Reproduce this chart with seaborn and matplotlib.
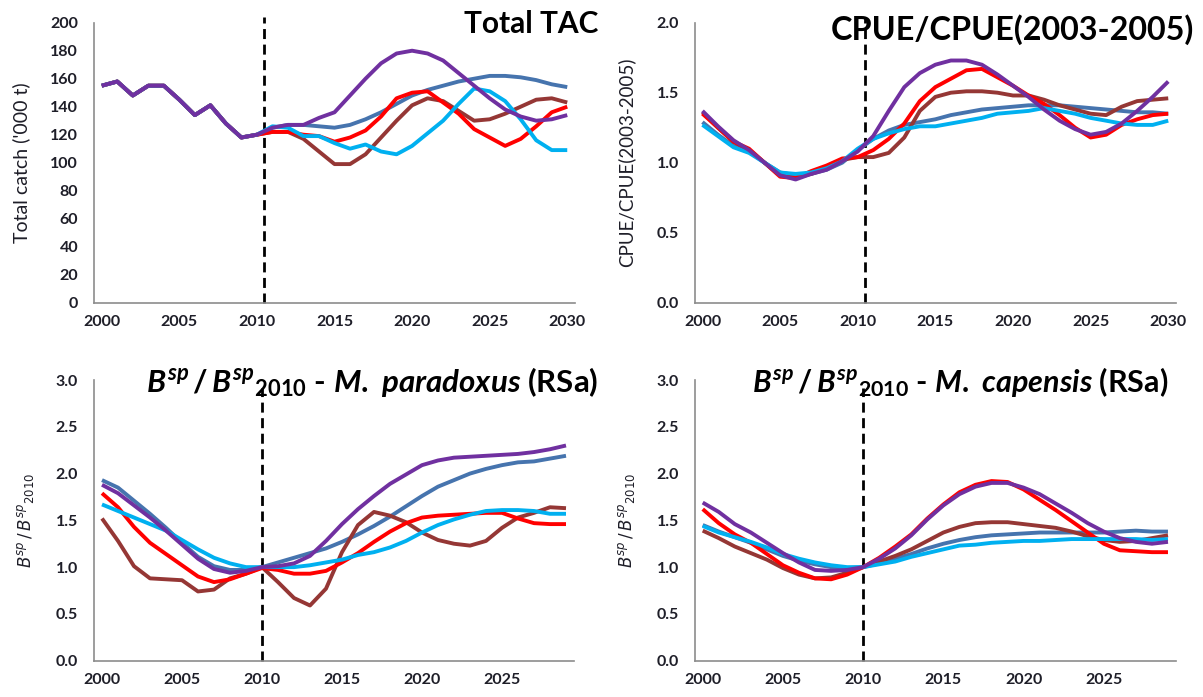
import numpy as np
import pandas as pd
import matplotlib
matplotlib.use("Agg")
import matplotlib.pyplot as plt
import seaborn as sns
from matplotlib.ticker import FixedLocator, FormatStrFormatter

# ---------------- data ----------------
years_top = list(range(2000, 2031))
years_bot = list(range(2000, 2030))

# Total TAC ('000 t): common history 2000-2010, projections 2011-2030
tac_hist = [155, 158, 148, 155, 155, 145, 134, 141, 128, 118, 120]
tac_purple = [125, 127, 127, 132, 136, 148, 160, 171, 178, 180, 178, 173, 164, 155, 146, 138, 133, 130, 131, 134]
tac_red = [122, 122, 120, 119, 115, 118, 123, 133, 146, 150, 151, 143, 135, 124, 118, 112, 117, 126, 136, 140]
tac_brown = [122, 122, 117, 108, 99, 99, 106, 118, 130, 141, 146, 144, 137, 130, 131, 135, 140, 145, 146, 143]
tac_cyan = [126, 125, 119, 119, 114, 110, 113, 108, 106, 112, 121, 130, 142, 153, 151, 144, 131, 116, 109, 109]
tac_steel = [125, 127, 127, 126, 125, 127, 131, 136, 142, 148, 152, 155, 158, 160, 162, 162, 161, 159, 156, 154]

# CPUE / CPUE(2003-2005), 2000-2030
cpue_purple = [1.37, 1.26, 1.16, 1.09, 1.00, 0.91, 0.88, 0.92, 0.95, 1.01, 1.08, 1.19, 1.37, 1.54, 1.64, 1.70,
               1.73, 1.73, 1.70, 1.63, 1.55, 1.47, 1.38, 1.30, 1.24, 1.20, 1.22, 1.28, 1.37, 1.47, 1.58]
cpue_red = [1.35, 1.25, 1.15, 1.10, 1.00, 0.90, 0.89, 0.94, 0.98, 1.03, 1.04, 1.09, 1.17, 1.28, 1.44, 1.54,
            1.60, 1.66, 1.67, 1.61, 1.55, 1.48, 1.42, 1.34, 1.25, 1.18, 1.20, 1.27, 1.31, 1.34, 1.35]
cpue_brown = [1.36, 1.25, 1.15, 1.09, 1.00, 0.91, 0.89, 0.92, 0.96, 1.02, 1.04, 1.04, 1.07, 1.18, 1.37, 1.47,
              1.50, 1.51, 1.51, 1.50, 1.48, 1.48, 1.45, 1.41, 1.38, 1.35, 1.34, 1.40, 1.44, 1.45, 1.46]
cpue_steel = [1.29, 1.20, 1.12, 1.08, 1.00, 0.93, 0.91, 0.92, 0.95, 1.00, 1.09, 1.17, 1.23, 1.27, 1.29, 1.31,
              1.34, 1.36, 1.38, 1.39, 1.40, 1.41, 1.41, 1.41, 1.40, 1.39, 1.38, 1.37, 1.36, 1.36, 1.35]
cpue_cyan = [1.27, 1.19, 1.11, 1.07, 1.00, 0.93, 0.92, 0.93, 0.96, 1.01, 1.10, 1.17, 1.21, 1.24, 1.26, 1.26,
             1.28, 1.30, 1.32, 1.35, 1.36, 1.37, 1.39, 1.37, 1.35, 1.32, 1.30, 1.28, 1.27, 1.27, 1.30]

# Bsp/Bsp2010 - M. paradoxus, 2000-2029
par_purple = [1.88, 1.79, 1.66, 1.53, 1.39, 1.24, 1.09, 0.98, 0.94, 0.96, 1.00, 1.01, 1.04, 1.12, 1.28,
              1.46, 1.62, 1.76, 1.89, 1.99, 2.09, 2.14, 2.17, 2.18, 2.19, 2.20, 2.21, 2.23, 2.26, 2.30]
par_steel = [1.93, 1.85, 1.71, 1.57, 1.42, 1.26, 1.11, 1.01, 0.97, 0.97, 1.00, 1.05, 1.10, 1.15, 1.20,
             1.27, 1.35, 1.44, 1.54, 1.65, 1.76, 1.86, 1.93, 2.00, 2.05, 2.09, 2.12, 2.13, 2.16, 2.19]
par_red = [1.79, 1.64, 1.43, 1.26, 1.14, 1.02, 0.90, 0.84, 0.87, 0.93, 0.99, 0.97, 0.93, 0.93, 0.96,
           1.05, 1.15, 1.27, 1.38, 1.47, 1.53, 1.55, 1.56, 1.57, 1.58, 1.58, 1.52, 1.47, 1.46, 1.46]
par_brown = [1.52, 1.28, 1.01, 0.88, 0.87, 0.86, 0.74, 0.76, 0.88, 0.93, 1.00, 0.84, 0.67, 0.59, 0.77,
             1.16, 1.45, 1.59, 1.55, 1.48, 1.37, 1.29, 1.25, 1.23, 1.28, 1.42, 1.53, 1.58, 1.64, 1.63]
par_cyan = [1.67, 1.60, 1.53, 1.46, 1.39, 1.29, 1.19, 1.10, 1.04, 1.00, 1.00, 1.00, 1.00, 1.02, 1.05,
            1.08, 1.13, 1.16, 1.21, 1.28, 1.37, 1.45, 1.51, 1.56, 1.60, 1.61, 1.61, 1.60, 1.57, 1.57]

# Bsp/Bsp2010 - M. capensis, 2000-2029
cap_purple = [1.69, 1.59, 1.46, 1.37, 1.26, 1.15, 1.05, 0.97, 0.96, 0.97, 1.00, 1.09, 1.20, 1.34, 1.51,
              1.66, 1.78, 1.86, 1.90, 1.90, 1.85, 1.78, 1.68, 1.58, 1.47, 1.38, 1.31, 1.27, 1.25, 1.27]
cap_red = [1.62, 1.47, 1.35, 1.26, 1.14, 1.02, 0.94, 0.88, 0.87, 0.92, 1.00, 1.10, 1.22, 1.35, 1.52,
           1.67, 1.80, 1.88, 1.92, 1.91, 1.83, 1.72, 1.61, 1.49, 1.37, 1.25, 1.18, 1.17, 1.16, 1.16]
cap_brown = [1.39, 1.31, 1.22, 1.15, 1.08, 0.99, 0.92, 0.88, 0.89, 0.94, 1.00, 1.06, 1.12, 1.19, 1.28,
             1.37, 1.43, 1.47, 1.48, 1.48, 1.46, 1.44, 1.42, 1.38, 1.33, 1.29, 1.27, 1.28, 1.31, 1.34]
cap_steel = [1.45, 1.38, 1.32, 1.26, 1.19, 1.12, 1.07, 1.03, 1.00, 0.99, 1.00, 1.04, 1.09, 1.14, 1.20,
             1.25, 1.29, 1.32, 1.34, 1.35, 1.36, 1.37, 1.37, 1.37, 1.37, 1.37, 1.38, 1.39, 1.38, 1.38]
cap_cyan = [1.44, 1.37, 1.32, 1.27, 1.21, 1.14, 1.09, 1.05, 1.02, 1.00, 1.00, 1.03, 1.06, 1.11, 1.15,
            1.19, 1.23, 1.24, 1.26, 1.27, 1.28, 1.28, 1.29, 1.30, 1.30, 1.30, 1.30, 1.30, 1.29, 1.30]

vline_top = 2010.45
vline_bot = 2010

# ---------------- style ----------------
sns.set_theme(style="white")
plt.rcParams["font.family"] = ["Lato", "DejaVu Sans"]
plt.rcParams["mathtext.fontset"] = "custom"
plt.rcParams["mathtext.it"] = "Lato:italic:bold"
plt.rcParams["mathtext.rm"] = "Lato:bold"
plt.rcParams["mathtext.bf"] = "Lato:bold"
plt.rcParams["mathtext.sf"] = "Lato:bold"

PURPLE, RED, BROWN, STEEL, CYAN = "#7030A0", "#FF0000", "#953735", "#4674AE", "#00B0F0"
AXIS_GREY = "#8C8C8C"
TXT = "#1E1E28"
LW = 2.8

fig = plt.figure(figsize=(12.03, 6.97), dpi=100)
W, H = 1203.0, 697.0


def rect(l, r, t, b):
    return [l / W, 1 - b / H, (r - l) / W, (b - t) / H]


ax_tac = fig.add_axes(rect(94, 575, 22.7, 302.7))
ax_cpue = fig.add_axes(rect(694.7, 1176, 22.7, 302.7))
ax_par = fig.add_axes(rect(94, 574, 380, 660.7))
ax_cap = fig.add_axes(rect(694.7, 1176, 380, 660.7))


def draw(ax, years, series):
    for vals, col in series:
        sns.lineplot(x=years, y=vals, color=col, lw=LW, ax=ax, legend=False,
                     solid_capstyle="butt", solid_joinstyle="round")


def style(ax, years, ymax, ystep, fmt, vx, vtop):
    last = years[-1]
    ax.set_xlim(years[0] - 0.5, last + 0.5)
    ax.set_ylim(0, ymax)
    ax.set_yticks(np.arange(0, ymax + ystep / 2, ystep))
    ax.yaxis.set_major_formatter(FormatStrFormatter(fmt))
    ax.set_xticks([y for y in years if (y - 2000) % 5 == 0])
    ax.xaxis.set_minor_locator(FixedLocator(np.arange(years[0] - 0.5, last + 0.6, 1.0)))
    ax.tick_params(axis="x", which="major", length=0, pad=9, labelsize=11.5, labelcolor=TXT)
    ax.tick_params(axis="x", which="minor", length=4.5, width=1.0, color=AXIS_GREY, direction="out")
    ax.tick_params(axis="y", which="major", length=4.5, width=1.0, color=AXIS_GREY, direction="out",
                   pad=7, labelsize=11.5, labelcolor=TXT)
    for lab in ax.get_xticklabels() + ax.get_yticklabels():
        lab.set_fontweight("bold")
    for s in ["top", "right"]:
        ax.spines[s].set_visible(False)
    for s in ["left", "bottom"]:
        ax.spines[s].set_color(AXIS_GREY)
        ax.spines[s].set_linewidth(1.2)
    ax.axvline(vx, ymin=0, ymax=vtop, color="black", lw=2.0, dashes=(3.6, 2.0), clip_on=False, zorder=1)
    ax.set_xlabel("")


# Total TAC
tac_series = [
    (tac_hist + tac_steel, STEEL),
    (tac_hist + tac_brown, BROWN),
    (tac_hist + tac_red, RED),
    (tac_hist + tac_cyan, CYAN),
    (tac_hist + tac_purple, PURPLE),
]
draw(ax_tac, years_top, tac_series)
style(ax_tac, years_top, 200, 20, "%d", vline_top, 1.02)

draw(ax_cpue, years_top, [(cpue_steel, STEEL), (cpue_brown, BROWN), (cpue_red, RED),
                          (cpue_cyan, CYAN), (cpue_purple, PURPLE)])
style(ax_cpue, years_top, 2.0, 0.5, "%.1f", vline_top, 1.02)

draw(ax_par, years_bot, [(par_steel, STEEL), (par_brown, BROWN), (par_red, RED),
                         (par_cyan, CYAN), (par_purple, PURPLE)])
style(ax_par, years_bot, 3.0, 0.5, "%.1f", vline_bot, 0.97)

draw(ax_cap, years_bot, [(cap_steel, STEEL), (cap_brown, BROWN), (cap_red, RED),
                         (cap_cyan, CYAN), (cap_purple, PURPLE)])
style(ax_cap, years_bot, 3.0, 0.5, "%.1f", vline_bot, 0.97)

# y labels
BSP = r"$B^{sp}\,/\,B^{sp}{}_{2010}$"
ax_tac.set_ylabel("Total catch ('000 t)", fontsize=14, color=TXT, va="center")
ax_tac.yaxis.set_label_coords((21 - 94) / 481, 0.5)
ax_cpue.set_ylabel("CPUE/CPUE(2003-2005)", fontsize=13.5, color=TXT, va="center")
ax_cpue.yaxis.set_label_coords((626 - 694.7) / 481, 0.5)
ax_par.set_ylabel(BSP, fontsize=12, color=TXT, va="center", math_fontfamily="dejavusans")
ax_par.yaxis.set_label_coords((25 - 94) / 480, 0.5)
ax_cap.set_ylabel(BSP, fontsize=12, color=TXT, va="center", math_fontfamily="dejavusans")
ax_cap.yaxis.set_label_coords((627 - 694.7) / 481, 0.5)

# titles
fig.text(598 / W, 1 - 24 / H, "Total TAC", ha="right", va="center", fontsize=21.5,
         fontweight="bold", color="black")
fig.text(1194 / W, 1 - 30 / H, "CPUE/CPUE(2003-2005)", ha="right", va="center", fontsize=23.3,
         fontweight="bold", color="black")
fig.text(598 / W, 1 - 392 / H, r"$B^{sp}\,/\,B^{sp}{}_{2010}$ - $M.\ paradoxus$ (RSa)", ha="right",
         va="baseline", fontsize=22.5, fontweight="bold", color="black")
fig.text(1168.5 / W, 1 - 392 / H, r"$B^{sp}\,/\,B^{sp}{}_{2010}$ - $M.\ capensis$ (RSa)", ha="right",
         va="baseline", fontsize=22, fontweight="bold", color="black")

fig.savefig("out.png", dpi=100)
